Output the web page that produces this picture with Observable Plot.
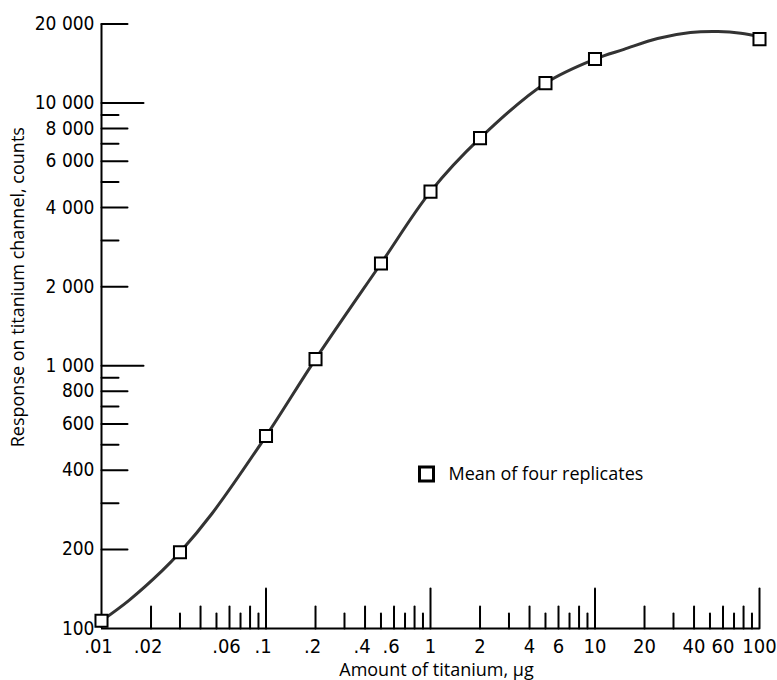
<!DOCTYPE html>
<html>
<head>
<meta charset="utf-8">
<script src="https://cdn.jsdelivr.net/npm/d3@7"></script>
<script src="https://cdn.jsdelivr.net/npm/@observablehq/plot@0.6"></script>
<style>
  html, body { margin: 0; padding: 0; background: #fff; }
  #chart svg { display: block; }
  #chart g[aria-label="y-labels"] text { letter-spacing: -1.6px; }
  #chart g[aria-label="x-labels-int"] text { letter-spacing: -1.5px; }
  #chart g[aria-label="x-labels-dec"] text { letter-spacing: -0.8px; }
</style>
</head>
<body>
<div id="chart"></div>
<script>
// ---- data ----
const xDomain = [0.01, 100];
const yDomain = [100, 20000];

// measured points (hollow squares): amount of titanium (µg) vs response (counts)
const pointX = [0.01, 0.03, 0.1, 0.2, 0.5, 1, 2, 5, 10, 100];
const pointY = [107, 195, 540, 1060, 2450, 4600, 7350, 11900, 14700, 17500];

// fitted curve
const curveX = [0.01, 0.0147, 0.0234, 0.03, 0.047, 0.1, 0.2, 0.5, 1, 2, 5, 10, 15, 24, 38, 56, 77, 100];
const curveY = [107, 128, 166, 195, 274, 540, 1060, 2450, 4600, 7350, 11900, 14700, 16000, 17600, 18540, 18700, 18440, 17900];

// x-axis ticks (drawn upward from the baseline)
const xTickMajor = [0.1, 1, 10, 100];
const xTickEven = [0.02, 0.04, 0.06, 0.08, 0.2, 0.4, 0.6, 0.8, 2, 4, 6, 8, 20, 40, 60, 80];
const xTickOdd = [0.03, 0.05, 0.07, 0.09, 0.3, 0.5, 0.7, 0.9, 3, 5, 7, 9, 30, 50, 70, 90];
const xLabelValues = [0.01, 0.02, 0.06, 0.1, 0.2, 0.4, 0.6, 1, 2, 4, 6, 10, 20, 40, 60, 100];
const xLabelText = [".01", ".02", ".06", ".1", ".2", ".4", ".6", "1", "2", "4", "6", "10", "20", "40", "60", "100"];

// y-axis ticks (drawn rightward from the axis)
const yTickMajor = [1000, 10000];
const yTickEven = [200, 400, 600, 800, 2000, 4000, 6000, 8000, 20000];
const yTickOdd = [300, 500, 700, 900, 3000, 5000, 7000, 9000];
const yLabelValues = [100, 200, 400, 600, 800, 1000, 2000, 4000, 6000, 8000, 10000, 20000];
const yLabelText = ["100", "200", "400", "600", "800", "1 000", "2 000", "4 000", "6 000", "8 000", "10 000", "20 000"];

const xTitle = "Amount of titanium, \u00b5g";
const yTitle = "Response on titanium channel, counts";
const legendLabel = "Mean of four replicates";

// ---- build ----
const points = pointX.map((x, i) => ({x, y: pointY[i]}));
const curve = curveX.map((x, i) => ({x, y: curveY[i]}));
const xLabels = xLabelValues.map((v, i) => ({v, t: xLabelText[i]}));
const yLabels = yLabelValues.map((v, i) => ({v, t: yLabelText[i]}));

const stick = {draw(context, l) { context.moveTo(0, 0); context.lineTo(0, -l); }};
const narrow = "'Liberation Sans Narrow', 'DejaVu Sans Condensed', 'Liberation Sans', sans-serif";
const humanist = "'Open Sans', 'Noto Sans', 'DejaVu Sans', sans-serif";

const xTicks = (data, len) => Plot.vector(data, {
  x: d => d, frameAnchor: "bottom", rotate: 0, length: len, anchor: "start",
  shape: stick, stroke: "black", strokeWidth: 2
});
const yTicks = (data, len) => Plot.vector(data, {
  y: d => d, frameAnchor: "left", rotate: 90, length: len, anchor: "start",
  shape: stick, stroke: "black", strokeWidth: 2
});

const chart = Plot.plot({
  width: 777,
  height: 680,
  marginLeft: 101,
  marginRight: 18,
  marginTop: 23.4,
  marginBottom: 52,
  style: {background: "white", color: "black", fontFamily: narrow, fontSize: "18px", overflow: "visible"},
  x: {type: "log", domain: xDomain, axis: null},
  y: {type: "log", domain: yDomain, axis: null},
  marks: [
    // axis lines
    Plot.ruleX([xDomain[0]], {stroke: "black", strokeWidth: 2}),
    Plot.ruleY([yDomain[0]], {stroke: "black", strokeWidth: 2}),
    // ticks
    xTicks(xTickMajor, 40),
    xTicks(xTickEven, 22),
    xTicks(xTickOdd, 15),
    yTicks(yTickMajor, 42),
    yTicks(yTickEven, 26),
    yTicks(yTickOdd, 17),
    // tick labels
    Plot.text(yLabels, {y: "v", text: "t", frameAnchor: "left", textAnchor: "end", lineAnchor: "middle",
      dx: -7, fontFamily: narrow, fontSize: 19, ariaLabel: "y-labels"}),
    Plot.text(xLabels.filter(d => d.t.startsWith(".")), {x: "v", text: "t", frameAnchor: "bottom",
      textAnchor: "middle", lineAnchor: "middle", dy: 18, dx: -3, fontFamily: narrow, fontSize: 20,
      ariaLabel: "x-labels-dec"}),
    Plot.text(xLabels.filter(d => !d.t.startsWith(".")), {x: "v", text: "t", frameAnchor: "bottom",
      textAnchor: "middle", lineAnchor: "middle", dy: 18, fontFamily: narrow, fontSize: 20,
      ariaLabel: "x-labels-int"}),
    // axis titles
    Plot.text([xTitle], {frameAnchor: "bottom", textAnchor: "middle", lineAnchor: "middle", dy: 42, dx: 6,
      fontFamily: humanist, fontSize: 18}),
    Plot.text([yTitle], {frameAnchor: "left", textAnchor: "middle", lineAnchor: "middle", rotate: -90,
      dx: -83, dy: -39, fontFamily: humanist, fontSize: 18}),
    // fitted curve
    Plot.line(curve, {x: "x", y: "y", curve: "catmull-rom", stroke: "#333", strokeWidth: 3}),
    // data points
    Plot.dot(points, {x: "x", y: "y", symbol: "square", r: 6.8, stroke: "black", strokeWidth: 2, fill: "white"}),
    // legend
    Plot.dot([legendLabel], {frameAnchor: "top-left", dx: 325, dy: 450, symbol: "square", r: 7.9,
      stroke: "black", strokeWidth: 3, fill: "white"}),
    Plot.text([legendLabel], {frameAnchor: "top-left", dx: 347, dy: 450, textAnchor: "start", lineAnchor: "middle",
      fontFamily: humanist, fontSize: 18})
  ]
});
document.getElementById("chart").appendChild(chart);
</script>
</body>
</html>
